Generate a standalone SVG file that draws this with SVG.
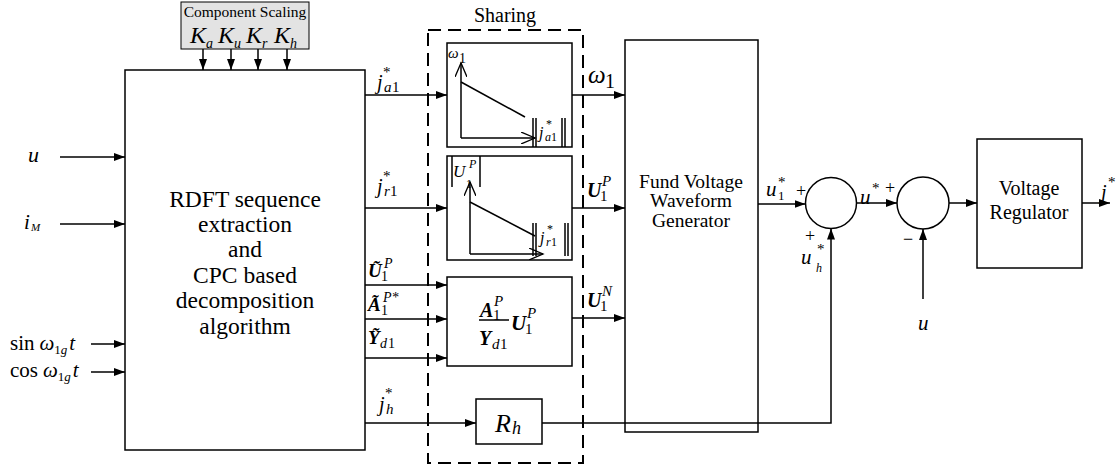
<svg xmlns="http://www.w3.org/2000/svg" width="1117" height="467" viewBox="0 0 1117 467" font-family="'Liberation Serif', 'Times New Roman', serif">
<style>
.bx{fill:#fff;stroke:#000;stroke-width:1.5}
.ln{fill:none;stroke:#000;stroke-width:1.5}
.ar{fill:none;stroke:#000;stroke-width:1.5;marker-end:url(#ah)}
.t{font-family:'Liberation Serif','Times New Roman',serif;fill:#000}
.i{font-family:'Liberation Serif','Times New Roman',serif;font-style:italic;fill:#000}
.b{font-family:'Liberation Serif','Times New Roman',serif;font-style:italic;font-weight:bold;fill:#000}
</style>
<defs>
<marker id="ah" markerUnits="userSpaceOnUse" markerWidth="12" markerHeight="9" refX="11" refY="4" orient="auto"><path d="M0,0 L11,4 L0,8 z" fill="#000"/></marker>
<marker id="oa" markerUnits="userSpaceOnUse" markerWidth="16" markerHeight="12" refX="14" refY="6" orient="auto"><path d="M0,0 L14,6 L0,12" fill="none" stroke="#000" stroke-width="1.3"/></marker>
</defs>

<g id="scaling">
<rect x="181" y="2" width="128" height="47" fill="#e3e3e3" stroke="#000" stroke-width="1"/>
<text class="t" x="245" y="17" font-size="15.5" text-anchor="middle">Component Scaling</text>
<text class="i" x="190" y="43" font-size="24">K</text><text class="i" x="206" y="48" font-size="14">a</text>
<text class="i" x="218" y="43" font-size="24">K</text><text class="i" x="234" y="48" font-size="14">u</text>
<text class="i" x="246" y="43" font-size="24">K</text><text class="i" x="262" y="48" font-size="14">r</text>
<text class="i" x="274" y="43" font-size="24">K</text><text class="i" x="290" y="48" font-size="14">h</text>
</g>

<g id="rdft">
<rect class="bx" x="125" y="70" width="240" height="380"/>
<text class="t" x="245" y="207" font-size="23.5" text-anchor="middle">RDFT sequence</text>
<text class="t" x="245" y="232" font-size="23.5" text-anchor="middle">extraction</text>
<text class="t" x="245" y="257" font-size="23.5" text-anchor="middle">and</text>
<text class="t" x="245" y="283" font-size="23.5" text-anchor="middle">CPC based</text>
<text class="t" x="245" y="308" font-size="23.5" text-anchor="middle">decomposition</text>
<text class="t" x="245" y="334" font-size="23.5" text-anchor="middle">algorithm</text>
</g>

<g id="inputs">
<text class="i" x="28" y="162" font-size="22">u</text>
<text class="i" x="24" y="229" font-size="21">i</text><text class="i" x="31" y="231" font-size="11">M</text>
<text class="t" x="10" y="350" font-size="21">sin<tspan class="i" dx="5">ω</tspan><tspan font-size="13" dy="4">1</tspan><tspan class="i" font-size="13">g</tspan><tspan class="i" dy="-4" dx="2">t</tspan></text>
<text class="t" x="10" y="377" font-size="21">cos<tspan class="i" dx="5">ω</tspan><tspan font-size="13" dy="4">1</tspan><tspan class="i" font-size="13">g</tspan><tspan class="i" dy="-4" dx="2">t</tspan></text>
</g>

<g id="sharing">
<rect x="428" y="30" width="155" height="433" fill="none" stroke="#000" stroke-width="2" stroke-dasharray="13,7"/>
<text class="t" x="505" y="22" font-size="20" text-anchor="middle">Sharing</text>
</g>

<g id="droop-w">
<rect class="bx" x="447" y="43" width="125" height="104"/>
<path class="ln" d="M461,138 L461,63" marker-end="url(#oa)"/>
<path class="ln" d="M461,138 L535,138" marker-end="url(#oa)"/>
<path class="ln" d="M461,82 L525,117"/>
<text class="i" x="448" y="58" font-size="15">ω</text><text class="t" x="459" y="63" font-size="14">1</text>
<path class="ln" stroke-width="1" d="M533,118 V147 M536,118 V147 M562,118 V147 M565,118 V147"/>
<text class="i" x="539" y="138" font-size="16">j</text><text class="i" x="545" y="141" font-size="12">a</text><text class="t" x="551" y="141" font-size="12">1</text><text class="t" x="546" y="128" font-size="12">*</text>
</g>

<g id="droop-u">
<rect class="bx" x="447" y="156" width="125" height="104"/>
<path class="ln" d="M470,254 L470,182" marker-end="url(#oa)"/>
<path class="ln" d="M470,254 L543,254" marker-end="url(#oa)"/>
<path class="ln" d="M470,202 L535,236"/>
<path class="ln" stroke-width="1" d="M452,156 V187 M480,156 V187"/>
<text class="i" x="453" y="177" font-size="17">U</text><text class="i" x="469" y="168" font-size="12">P</text><text class="t" x="466" y="188" font-size="12">1</text>
<path class="ln" stroke-width="1" d="M533,223 V256 M536,223 V256 M565,223 V256 M568,223 V256"/>
<text class="i" x="540" y="243" font-size="16">j</text><text class="i" x="546" y="246" font-size="12">r</text><text class="t" x="551" y="246" font-size="12">1</text><text class="t" x="547" y="233" font-size="12">*</text>
</g>

<g id="ratio">
<rect class="bx" x="447" y="277" width="125" height="89"/>
<text class="b" x="480" y="317" font-size="20">A</text><text class="t" x="493" y="320" font-size="15">1</text><text class="i" x="494" y="306" font-size="15">P</text>
<path class="ln" stroke-width="1" d="M479,320 H509"/>
<text class="b" x="479" y="345" font-size="20">Y</text><text class="i" x="492" y="349" font-size="15">d</text><text class="t" x="500" y="349" font-size="15">1</text>
<text class="b" x="511" y="330" font-size="21">U</text><text class="t" x="525" y="334" font-size="15">1</text><text class="i" x="527" y="318" font-size="15">P</text>
</g>

<g id="rh">
<rect class="bx" x="476" y="399" width="66" height="45"/>
<text class="i" x="495" y="432" font-size="26">R</text><text class="i" x="512" y="434" font-size="18">h</text>
</g>

<g id="fund">
<rect class="bx" x="625" y="40" width="133" height="392"/>
<text class="t" x="691" y="188" font-size="19.5" text-anchor="middle">Fund Voltage</text>
<text class="t" x="691" y="207" font-size="19.5" text-anchor="middle">Waveform</text>
<text class="t" x="691" y="227" font-size="19.5" text-anchor="middle">Generator</text>
</g>

<g id="sum1"><circle class="bx" cx="831" cy="203" r="25.5"/></g>
<g id="sum2"><circle class="bx" cx="923" cy="203" r="26"/></g>

<g id="vreg">
<rect class="bx" x="977" y="139" width="105" height="129"/>
<text class="t" x="1029" y="195" font-size="20" text-anchor="middle">Voltage</text>
<text class="t" x="1029" y="219" font-size="20" text-anchor="middle">Regulator</text>
</g>

<g id="connectors">
<path class="ar" d="M203,49 V70"/>
<path class="ar" d="M231,49 V70"/>
<path class="ar" d="M258,49 V70"/>
<path class="ar" d="M287,49 V70"/>
<path class="ar" d="M60,157 H125"/>
<path class="ar" d="M60,224 H125"/>
<path class="ar" d="M91,344 H125"/>
<path class="ar" d="M91,372 H125"/>
<path class="ar" d="M365,95 H447"/>
<path class="ar" d="M365,208 H447"/>
<path class="ar" d="M365,285 H447"/>
<path class="ar" d="M365,319 H447"/>
<path class="ar" d="M365,358 H447"/>
<path class="ar" d="M365,423 H476"/>
<path class="ar" d="M572,95 H625"/>
<path class="ar" d="M572,208 H625"/>
<path class="ar" d="M572,318 H625"/>
<path class="ar" d="M758,204 H805.5"/>
<path class="ar" d="M542,423 H831 V228.5"/>
<path class="ar" d="M856.5,203 H897"/>
<path class="ar" d="M923,299 V229"/>
<path class="ar" d="M949,203 H977"/>
<path class="ar" d="M1082,203 H1110"/>
</g>

<g id="labels">
<text class="i" x="377" y="89" font-size="20">j</text><text class="i" x="384" y="92" font-size="15">a</text><text class="t" x="392" y="92" font-size="15">1</text><text class="t" x="383" y="77" font-size="15">*</text>
<text class="i" x="377" y="193" font-size="20">j</text><text class="i" x="384" y="196" font-size="15">r</text><text class="t" x="390" y="196" font-size="15">1</text><text class="t" x="383" y="181" font-size="15">*</text>
<text class="b" x="368" y="277" font-size="19">Ũ</text><text class="t" x="381" y="281" font-size="14">1</text><text class="i" x="384" y="268" font-size="14">P</text>
<text class="b" x="368" y="311" font-size="19">Ã</text><text class="t" x="381" y="315" font-size="14">1</text><text class="i" x="383" y="302" font-size="14">P*</text>
<text class="b" x="368" y="344" font-size="19">Ỹ</text><text class="i" x="380" y="348" font-size="14">d</text><text class="t" x="388" y="348" font-size="14">1</text>
<text class="i" x="379" y="411" font-size="20">j</text><text class="i" x="386" y="414" font-size="15">h</text><text class="t" x="385" y="398" font-size="15">*</text>
<text class="i" x="588" y="83" font-size="25">ω</text><text class="t" x="605" y="88" font-size="20">1</text>
<text class="b" x="587" y="197" font-size="20">U</text><text class="t" x="600" y="201" font-size="15">1</text><text class="i" x="602" y="186" font-size="15">P</text>
<text class="b" x="587" y="307" font-size="20">U</text><text class="t" x="600" y="311" font-size="15">1</text><text class="i" x="602" y="296" font-size="15">N</text>
<text class="i" x="766" y="196" font-size="21">u</text><text class="t" x="778" y="200" font-size="13">1</text><text class="t" x="778" y="187" font-size="15">*</text>
<text class="t" x="801" y="197" font-size="18" text-anchor="middle">+</text>
<text class="t" x="810" y="242" font-size="18" text-anchor="middle">+</text>
<text class="i" x="801" y="264" font-size="21">u</text><text class="i" x="816" y="272" font-size="12">h</text><text class="t" x="817" y="254" font-size="15">*</text>
<text class="i" x="860" y="204" font-size="21">u</text><text class="t" x="872" y="193" font-size="15">*</text>
<text class="t" x="890" y="194" font-size="18" text-anchor="middle">+</text>
<text class="t" x="908" y="245" font-size="18" text-anchor="middle">−</text>
<text class="i" x="918" y="330" font-size="21">u</text>
<text class="i" x="1101" y="199" font-size="20">j</text><text class="t" x="1108" y="187" font-size="15">*</text>
</g>
</svg>
